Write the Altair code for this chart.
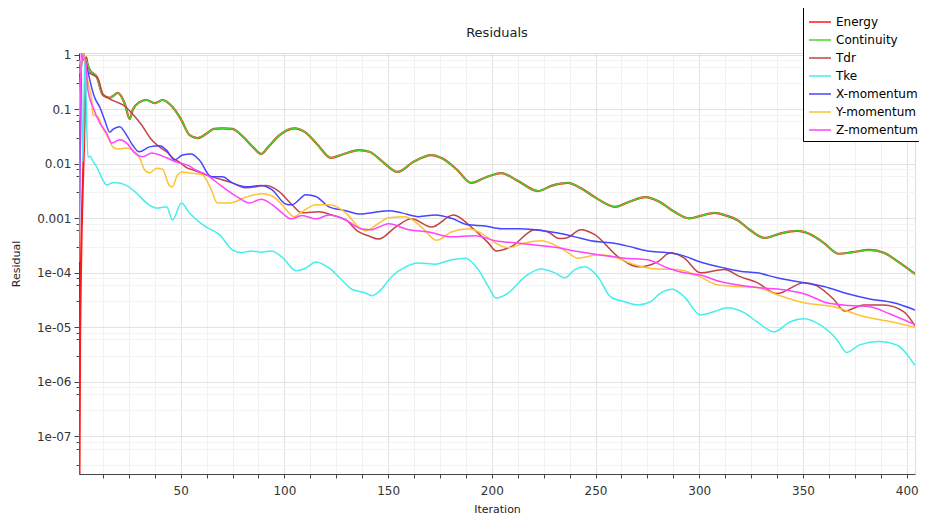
import altair as alt
import pandas as pd

series_names = ["Energy", "Continuity", "Tdr", "Tke", "X-momentum", "Y-momentum", "Z-momentum"]
series_colors = ["#ff1a1a", "#44d42a", "#c04444", "#44eeee", "#4646ff", "#ffc233", "#ff44ff"]

# residuals, stored as log10(residual)
continuity_iter = [1, 2, 3, 4, 5, 6.2, 9.6, 12.5, 15.8, 18, 19.7, 23, 25.5, 26.9, 30.2, 33.6, 37.5, 41.3,
                   46.1, 50.4, 54.2, 58.1, 62.4, 66, 70.1, 74.9, 80, 85, 88.8, 92, 97.5, 104.7, 110, 116,
                   122.4, 128, 135.9, 141, 147, 154.6, 162, 170.9, 176, 183, 190.1, 197, 204.5, 212, 222.3,
                   229, 236.7, 243, 250, 259.5, 266, 274.1, 281, 288, 295.2, 301, 307.3, 313, 318.3, 324,
                   331.7, 339, 347.1, 354, 360, 367.3, 374, 382.1, 389, 396, 404]
continuity_log10 = [-0.35, -0.15, -0.02, -0.05, -0.15, -0.28, -0.41, -0.74, -0.79, -0.74, -0.70, -0.89, -1.18,
                    -1.01, -0.87, -0.83, -0.89, -0.83, -0.96, -1.20, -1.47, -1.53, -1.45, -1.36, -1.35, -1.36,
                    -1.5, -1.7, -1.82, -1.7, -1.48, -1.35, -1.42, -1.65, -1.89, -1.83, -1.75, -1.78, -1.95,
                    -2.15, -1.97, -1.84, -1.9, -2.1, -2.35, -2.25, -2.17, -2.3, -2.5, -2.4, -2.35, -2.45,
                    -2.62, -2.79, -2.7, -2.61, -2.7, -2.88, -3.0, -2.95, -2.9, -2.95, -3.03, -3.2, -3.36,
                    -3.28, -3.23, -3.3, -3.45, -3.65, -3.62, -3.58, -3.63, -3.8, -4.02]

energy_start_iter = [1, 1.5, 3.5, 4.5]
energy_start_log10 = [-9.5, -5.2, -1.5, -0.05]
energy_iter = energy_start_iter + continuity_iter[4:]
energy_log10 = energy_start_log10 + continuity_log10[4:]

tdr_iter = [1, 2, 3, 4.8, 7.7, 10.1, 12.5, 14.9, 19.2, 23, 26.4, 31.2, 36, 39.8, 43.2, 46.1, 49.4, 53.3,
            55.7, 65.3, 74.9, 81.6, 91.2, 97.5, 103.7, 108.5, 116.7, 122.9, 129.6, 135.9, 140.5, 145.5,
            153.6, 161.3, 170.9, 181.5, 190.1, 198.3, 202.1, 209.3, 220.8, 227.1, 232.5, 236, 242.9,
            249.6, 260.7, 271.2, 279.9, 286.1, 292.8, 300.5, 312, 319.7, 327.9, 337.5, 350.5, 356.7,
            364.9, 370.1, 379.3, 388.9, 398.5, 404]
tdr_log10 = [-1.0, -0.3, 0.05, -0.3, -0.37, -0.43, -0.72, -0.79, -0.87, -0.94, -1.07, -1.29, -1.56, -1.69,
             -1.78, -1.89, -1.97, -2.08, -2.11, -2.24, -2.35, -2.44, -2.40, -2.51, -2.75, -2.90, -2.88,
             -2.94, -3.03, -3.25, -3.32, -3.38, -3.16, -3.01, -3.16, -2.94, -3.16, -3.45, -3.60, -3.52,
             -3.21, -3.25, -3.37, -3.36, -3.21, -3.30, -3.70, -3.89, -3.80, -3.63, -3.73, -4.0, -3.94,
             -4.07, -4.18, -4.38, -4.18, -4.24, -4.49, -4.70, -4.59, -4.59, -4.71, -4.97]

tke_iter = [1, 2, 2.9, 3.8, 5.3, 6.2, 7.7, 9.6, 12.5, 14.4, 17.3, 19.2, 24, 28.8, 33.6, 38.4, 43.2, 46.1,
            50.4, 54.2, 59, 62.4, 68.7, 74.9, 79.2, 84, 88.8, 93.6, 98.9, 105.6, 110.4, 115.2, 121.5,
            127.7, 132.5, 139.2, 142.1, 145.5, 151.7, 158.4, 164.7, 172.8, 180.5, 187.2, 193.5, 198.3,
            202.1, 207.9, 216, 223.7, 230.4, 235.2, 240, 244.8, 251.1, 257.3, 264, 270.3, 276.5, 281.3,
            287.1, 292.8, 300.5, 307.3, 313.5, 321.6, 327.9, 336.1, 343.7, 350.5, 358.1, 366.3, 371.1,
            377.3, 386.9, 395.1, 404]
tke_log10 = [-0.1, -0.3, -1.96, -0.05, -1.88, -1.86, -1.95, -2.06, -2.30, -2.39, -2.35, -2.35, -2.40,
             -2.54, -2.72, -2.81, -2.79, -3.03, -2.72, -2.90, -3.07, -3.16, -3.30, -3.58, -3.63, -3.60,
             -3.62, -3.60, -3.71, -3.96, -3.91, -3.80, -3.91, -4.13, -4.30, -4.37, -4.42, -4.35, -4.07,
             -3.89, -3.82, -3.84, -3.76, -3.73, -3.94, -4.25, -4.46, -4.37, -4.07, -3.93, -4.0, -4.09,
             -3.94, -3.89, -4.07, -4.44, -4.53, -4.59, -4.53, -4.37, -4.30, -4.44, -4.77, -4.71, -4.64,
             -4.73, -4.90, -5.08, -4.90, -4.84, -4.95, -5.22, -5.46, -5.32, -5.26, -5.32, -5.70]

xmom_iter = [1, 2, 3, 4, 5.3, 6.2, 8.6, 11, 13.4, 15.8, 17.3, 20.6, 24, 26.9, 30, 35, 39.8, 43.2, 47, 50.9,
             55, 59, 64.8, 70.1, 74.9, 81.6, 88.8, 94.1, 100.8, 103.7, 110.4, 115.2, 121.5, 129.6, 135.9,
             145.5, 150.3, 156.5, 164.7, 172.8, 180.5, 188.7, 196.8, 204.5, 212.7, 220.8, 231.9, 240,
             247.7, 257.3, 265.5, 275.1, 284.7, 290.9, 300.5, 312, 319.7, 327.9, 337.5, 350.5, 360.1,
             371.1, 382.1, 393.7, 404]
xmom_log10 = [-3.8, -0.3, 0.02, -0.1, -0.3, -0.46, -0.79, -0.96, -1.2, -1.42, -1.37, -1.32, -1.48, -1.66,
              -1.78, -1.69, -1.67, -1.75, -1.93, -1.84, -1.82, -1.93, -2.24, -2.24, -2.35, -2.42, -2.40,
              -2.48, -2.74, -2.75, -2.57, -2.60, -2.79, -2.86, -2.92, -2.88, -2.86, -2.90, -2.97, -2.94,
              -3.0, -3.12, -3.14, -3.19, -3.19, -3.21, -3.27, -3.34, -3.41, -3.45, -3.51, -3.60, -3.63,
              -3.67, -3.80, -3.91, -3.97, -4.0, -4.09, -4.18, -4.25, -4.38, -4.48, -4.55, -4.68]

ymom_iter = [1, 2, 3, 4, 5.3, 7.2, 7.7, 10.1, 12.5, 14.9, 17.3, 19.7, 24, 26.9, 30.2, 32.6, 35, 38.4, 41.3,
             44.6, 46.1, 48.5, 50.9, 54.2, 60.5, 64.8, 67.7, 73.5, 81.6, 89.3, 94.1, 98.9, 104.7, 108.5,
             115.2, 121.5, 129.6, 135.9, 139.2, 145.5, 150.3, 158.4, 166.1, 173.3, 180.5, 188.7, 194.9,
             201.6, 207.9, 216, 223.7, 231.9, 236.7, 241.5, 251.1, 257.3, 268.8, 279.9, 289.5, 299.1,
             308.7, 318.3, 327.9, 337.5, 350.5, 364.9, 379.3, 390.3, 404]
ymom_log10 = [-1.2, -0.2, 0.03, -0.15, -0.5, -0.85, -1.1, -1.14, -1.35, -1.51, -1.69, -1.73, -1.71, -1.75,
              -1.89, -2.11, -2.17, -2.08, -2.10, -2.40, -2.42, -2.2, -2.15, -2.17, -2.2, -2.48, -2.72,
              -2.72, -2.61, -2.55, -2.59, -2.75, -2.97, -2.88, -2.75, -2.75, -2.90, -3.16, -3.23, -3.09,
              -2.99, -2.97, -3.16, -3.40, -3.25, -3.19, -3.27, -3.45, -3.54, -3.45, -3.41, -3.52, -3.63,
              -3.73, -3.67, -3.69, -3.85, -3.93, -3.94, -4.05, -4.22, -4.25, -4.27, -4.40, -4.55, -4.62,
              -4.80, -4.88, -5.0]

zmom_iter = [1, 2, 3, 4, 5.3, 7.7, 11, 14.4, 16.8, 20.6, 24, 27.8, 31.7, 36, 38.4, 43.2, 48, 54.2, 55.7,
             62.4, 70.1, 78.3, 83.1, 88.8, 94.1, 98.9, 103.2, 108.5, 115.2, 121.5, 129.6, 136.8, 142.1,
             145.5, 150.3, 159.9, 169.5, 180.5, 192, 201.6, 211.2, 220.8, 231.9, 241.5, 251.1, 264,
             275.1, 284.7, 292.8, 300.5, 310.1, 318.3, 327.9, 340.9, 351.9, 361.5, 372.5, 382.1, 391.7,
             404]
zmom_log10 = [-3.8, 0.05, -0.1, -0.05, -0.65, -0.96, -1.25, -1.44, -1.62, -1.56, -1.62, -1.80, -1.87,
              -1.80, -1.82, -1.89, -1.97, -2.04, -2.08, -2.20, -2.42, -2.63, -2.72, -2.65, -2.75, -2.90,
              -3.01, -2.95, -3.01, -2.94, -3.03, -3.19, -3.21, -3.16, -3.10, -3.21, -3.25, -3.34, -3.32,
              -3.41, -3.45, -3.49, -3.54, -3.61, -3.67, -3.73, -3.76, -3.91, -4.0, -4.04, -4.16, -4.22,
              -4.27, -4.31, -4.40, -4.55, -4.60, -4.62, -4.75, -4.95]

# y tick values: decades plus minor ticks
decades = [-8, -7, -6, -5, -4, -3, -2, -1, 0]
minor_factors = [3, 6, 8]
x_tick_values = [12.5 * k for k in range(1, 33)]


def frame(name, iters, logs):
    return pd.DataFrame({"Iteration": iters,
                         "Residual": [10.0 ** v for v in logs],
                         "Series": name})


energy_df = frame("Energy", energy_iter, energy_log10)
others_df = pd.concat([
    frame("Continuity", continuity_iter, continuity_log10),
    frame("Tdr", tdr_iter, tdr_log10),
    frame("Tke", tke_iter, tke_log10),
    frame("X-momentum", xmom_iter, xmom_log10),
    frame("Y-momentum", ymom_iter, ymom_log10),
    frame("Z-momentum", zmom_iter, zmom_log10),
], ignore_index=True)

y_values = []
for d in decades:
    y_values.append(10.0 ** d)
    if d < 0:
        for f in minor_factors:
            y_values.append(f * 10.0 ** d)

FONT = "DejaVu Sans"
PLOT_W = 836
PLOT_H = 421
is_decade = "abs(log(datum.value)/LN10 - round(log(datum.value)/LN10)) < 0.001"
y_label_expr = (
    f"({is_decade}) ? (datum.value > 0.0009 ? format(datum.value, '') : "
    "'1e-0' + (-round(log(datum.value)/LN10))) : ''"
)

x_axis = alt.Axis(
    values=x_tick_values,
    labelExpr="datum.value % 50 === 0 ? datum.value : ''",
    title="Iteration",
    titleFontSize=11, titleFontWeight="normal", titleColor="#222222", titleFont=FONT,
    titleX=PLOT_W / 2, titleY=35, titleAlign="center", titleBaseline="middle",
    labelFontSize=12, labelFont=FONT, labelColor="#333333", labelPadding=7,
    tickSize=4, tickColor="#444444", domainColor="#444444",
    gridColor={"condition": {"test": "datum.value % 50 === 0", "value": "#e2e2e2"}, "value": "#f1f1f1"},
    labelOverlap=False, labelFlush=False,
)
y_axis = alt.Axis(
    values=y_values,
    labelExpr=y_label_expr,
    title="Residual",
    titleFontSize=11, titleFontWeight="normal", titleColor="#222222", titleFont=FONT,
    titleX=-63, titleY=PLOT_H / 2, titleAlign="center", titleBaseline="middle", titleAngle=270,
    labelFontSize=12, labelFont=FONT, labelColor="#333333", labelPadding=3,
    tickSize={"condition": {"test": is_decade, "value": 5}, "value": 3},
    tickColor="#444444", domainColor="#444444",
    gridColor={"condition": {"test": is_decade, "value": "#e2e2e2"}, "value": "#f3f3f3"},
    labelOverlap=False, labelFlush=False,
)

color_scale = alt.Scale(domain=series_names, range=series_colors)
legend = alt.Legend(
    title=None, orient="none", legendX=724, legendY=-48,
    symbolType="stroke", symbolSize=484, symbolStrokeWidth=1.5,
    labelFontSize=12, labelFont=FONT, labelColor="#000000", labelOffset=4,
    strokeColor="#000000", fillColor="#ffffff", padding=5, rowPadding=0,
    cornerRadius=0, direction="vertical",
)

x_enc = alt.X("Iteration:Q", scale=alt.Scale(domain=[1, 404], nice=False, zero=False), axis=x_axis)
y_enc = alt.Y("Residual:Q", scale=alt.Scale(type="log", domain=[2.05e-8, 1.075], nice=False), axis=y_axis)
color_enc = alt.Color("Series:N", scale=color_scale, legend=legend, sort=series_names)

energy_layer = alt.Chart(energy_df).mark_line(
    clip=True, strokeWidth=2.2, interpolate="monotone"
).encode(x=x_enc, y=y_enc, color=color_enc)

others_layer = alt.Chart(others_df).mark_line(
    clip=True, strokeWidth=1.5, interpolate="monotone"
).encode(x=x_enc, y=y_enc, color=color_enc, detail="Series:N")

chart = alt.layer(energy_layer, others_layer).properties(
    width=PLOT_W, height=PLOT_H,
    title=alt.TitleParams("Residuals", fontSize=13, font=FONT, fontWeight="normal",
                          color="#222222", anchor="middle", frame="group", offset=-35),
    autosize=alt.AutoSizeParams(type="none"),
    padding={"left": 71, "top": 45, "right": 4, "bottom": 41},
).configure_view(stroke=None).configure(background="white")

chart.save("out.html", embed_options={"renderer": "svg", "actions": False})
